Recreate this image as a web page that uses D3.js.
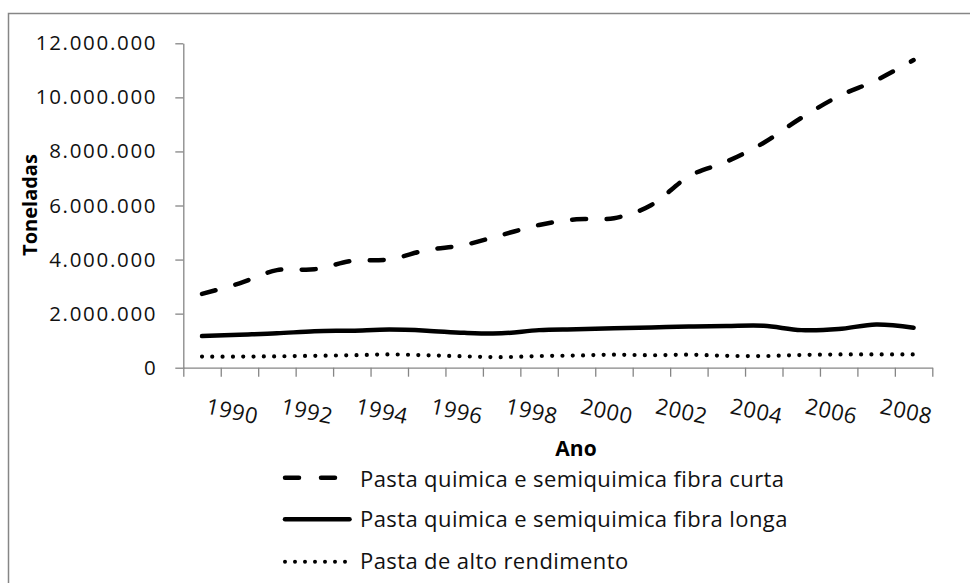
<!DOCTYPE html>
<html><head><meta charset="utf-8">
<script src="https://cdn.jsdelivr.net/npm/d3@7"></script>
<style>
html,body{margin:0;padding:0;background:#fff;}
svg{display:block;font-family:"Open Sans",sans-serif;}
</style></head>
<body><svg id="c" width="970" height="583"></svg>
<script>
const years = [1989,1990,1991,1992,1993,1994,1995,1996,1997,1998,1999,2000,2001,2002,2003,2004,2005,2006,2007,2008];
const fibraCurta = [2730000,3120000,3610000,3640000,3950000,4010000,4350000,4540000,4910000,5280000,5490000,5530000,6020000,7080000,7620000,8320000,9240000,10040000,10630000,11380000];
const fibraLonga = [1170000,1220000,1270000,1350000,1370000,1410000,1370000,1290000,1270000,1390000,1420000,1460000,1490000,1520000,1540000,1550000,1390000,1430000,1600000,1480000];
const altoRendimento = [410000,410000,420000,440000,460000,490000,460000,420000,390000,430000,450000,480000,460000,480000,440000,430000,470000,490000,490000,490000];
const yTicks = [0,2000000,4000000,6000000,8000000,10000000,12000000];
const xLabelYears = [1990,1992,1994,1996,1998,2000,2002,2004,2006,2008];
const seriesNames = ["Pasta quimica e semiquimica fibra curta","Pasta quimica e semiquimica fibra longa","Pasta de alto rendimento"];
const yTitle = "Toneladas", xTitle = "Ano";

const svg = d3.select("#c");
const L = 183.3, R = 932.3, T = 43.3, B = 367.7;
const axisColor = "#868686";

svg.append("rect").attr("x",8.5).attr("y",13.5).attr("width",1000).attr("height",1000)
  .attr("fill","none").attr("stroke",axisColor).attr("stroke-width",1.5);

const x = d3.scaleBand().domain(years).range([L,R]).padding(0);
const cx = d => x(d) + x.bandwidth()/2;
const xb = d3.scaleLinear().domain([0, years.length]).range([L,R]);
const y = d3.scaleLinear().domain([0,12000000]).range([B,T]);

const loc = d3.formatLocale({decimal:",",thousands:".",grouping:[3],currency:["",""]});
const fmt = loc.format(",d");

// y axis
const ya = svg.append("g").attr("transform",`translate(${L},0)`)
  .call(d3.axisLeft(y).tickValues(yTicks).tickFormat(fmt).tickSize(8).tickSizeOuter(0).tickPadding(18));
ya.select(".domain").attr("stroke",axisColor).attr("stroke-width",1.3);
ya.selectAll(".tick line").attr("stroke",axisColor).attr("stroke-width",1.3);
ya.selectAll(".tick text").attr("font-family","Open Sans").attr("font-size",20.5)
  .attr("letter-spacing","1.7px").attr("fill","#111");

// x axis (ticks at category boundaries)
const xa = svg.append("g").attr("transform",`translate(0,${B})`)
  .call(d3.axisBottom(xb).tickValues(d3.range(0, years.length+1)).tickFormat("").tickSize(9).tickSizeOuter(0));
xa.select(".domain").attr("stroke",axisColor).attr("stroke-width",1.3);
xa.selectAll(".tick line").attr("stroke",axisColor).attr("stroke-width",1.3);

// x labels rotated
svg.append("g").selectAll("text").data(xLabelYears).join("text")
  .attr("transform",d=>`translate(${cx(d)-7},410) rotate(12)`)
  .attr("text-anchor","middle").attr("dominant-baseline","central")
  .attr("font-size",22).attr("letter-spacing","0.5px").attr("fill","#111").text(d=>d);

// titles
svg.append("text").attr("transform",`translate(36.5,205) rotate(-90)`)
  .attr("text-anchor","middle").attr("font-weight","bold").attr("font-size",20)
  .attr("fill","#000").text(yTitle);
svg.append("text").attr("x",576).attr("y",456).attr("text-anchor","middle")
  .attr("font-weight","bold").attr("font-size",21).attr("fill","#000").text(xTitle);

// lines
const styles = [
  {dash:"14 20.5", w:4.5},
  {dash:null, w:4.5},
  {dash:"0 10.3", w:4.2}
];
const data = [fibraCurta, fibraLonga, altoRendimento];
const line = d3.line().x((d,i)=>cx(years[i])).y(d=>y(d)).curve(d3.curveCardinal.tension(0));
data.forEach((s,k)=>{
  const p = svg.append("path").attr("d", line(s)).attr("fill","none")
    .attr("stroke","#000").attr("stroke-width",styles[k].w)
    .attr("stroke-linecap","round").attr("stroke-linejoin","round");
  if (styles[k].dash) p.attr("stroke-dasharray", styles[k].dash);
});

// legend
const legY = [477.7, 519.3, 561.7];
const legBase = [486.7, 526.7, 569.3];
const legSample = [
  {x1:285,x2:335,dash:"14 22",w:4.5},
  {x1:285,x2:349.5,dash:null,w:4.5},
  {x1:285,x2:345.5,dash:"0 10",w:4}
];
seriesNames.forEach((n,k)=>{
  const s = legSample[k];
  const l = svg.append("line").attr("x1",s.x1).attr("x2",s.x2).attr("y1",legY[k]).attr("y2",legY[k])
    .attr("stroke","#000").attr("stroke-width",s.w).attr("stroke-linecap","round");
  if (s.dash) l.attr("stroke-dasharray",s.dash);
  svg.append("text").attr("x",360).attr("y",legBase[k]).attr("font-size",22)
    .attr("letter-spacing","0.4px").attr("fill","#111").text(n);
});
</script></body></html>
